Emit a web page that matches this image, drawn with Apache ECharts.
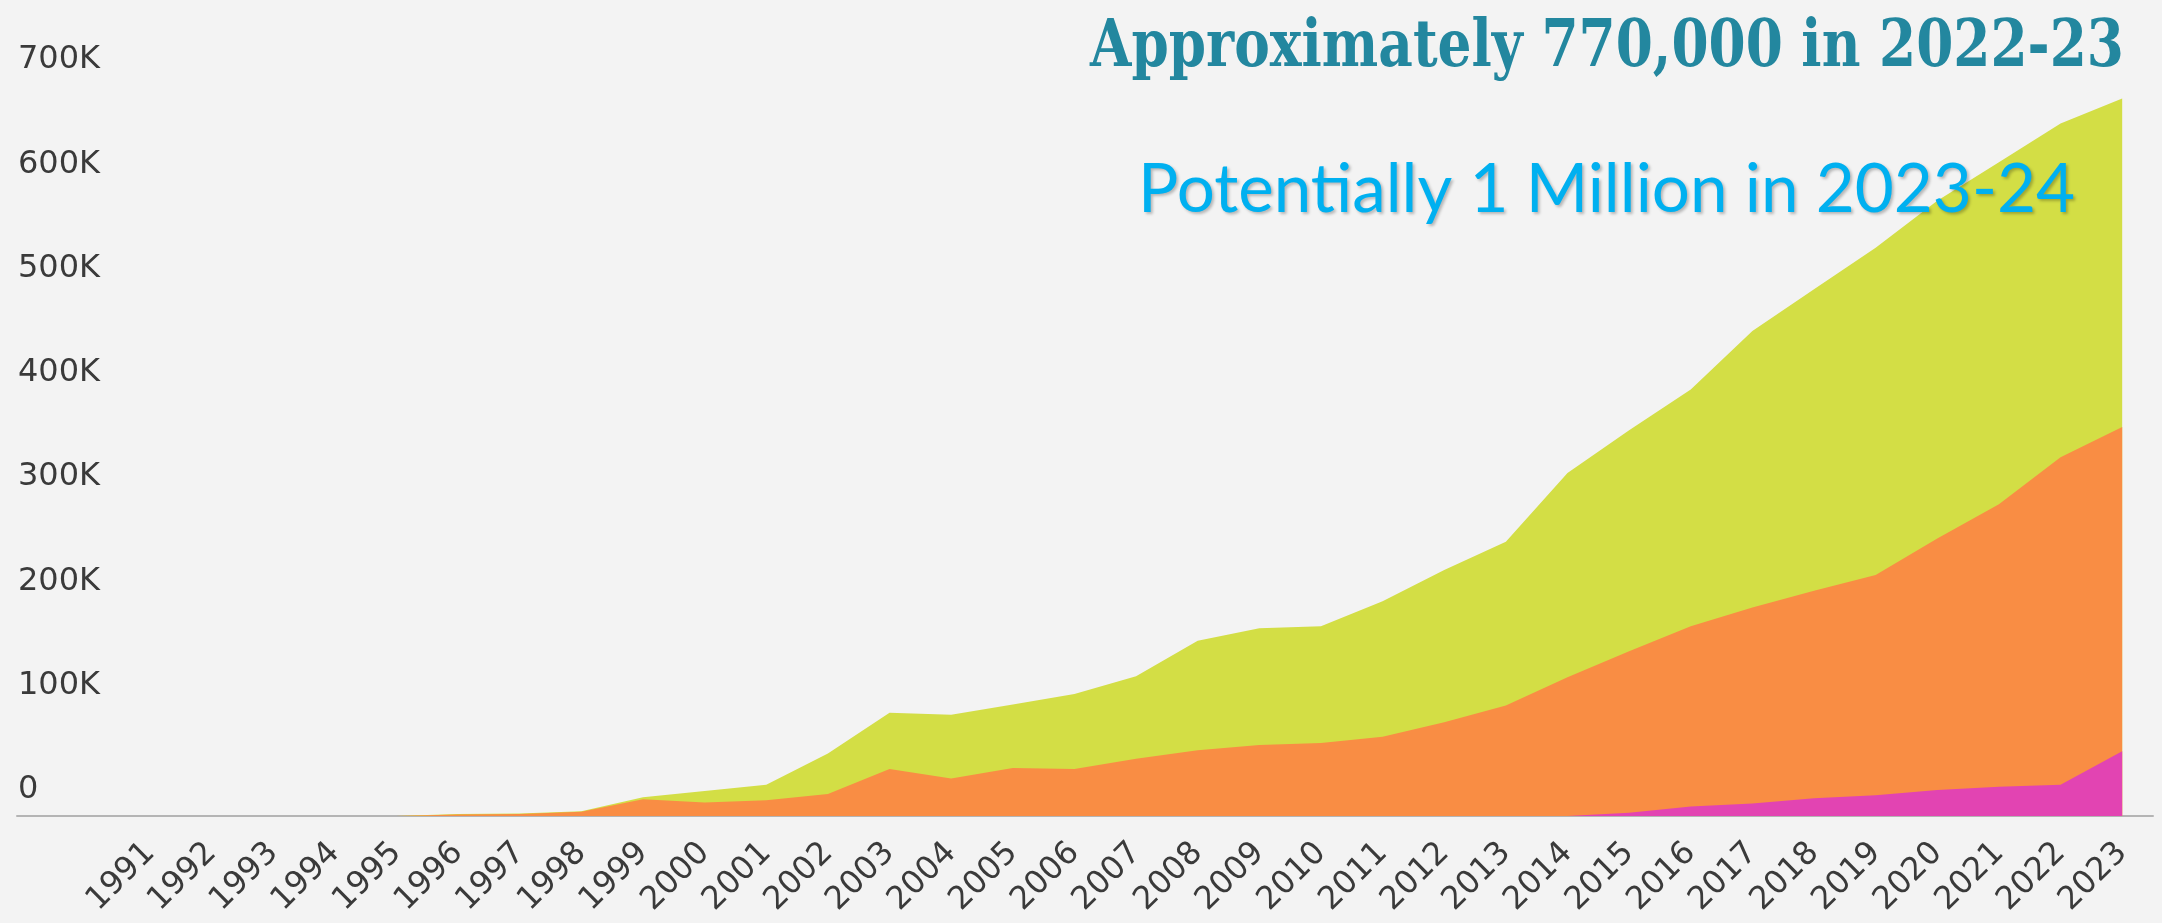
<!DOCTYPE html>
<html>
<head>
<meta charset="utf-8">
<script src="https://cdn.jsdelivr.net/npm/echarts@6/dist/echarts.min.js"></script>
<style>
  html, body { margin: 0; padding: 0; background: #f3f3f3; }
  #chart { width: 2162px; height: 923px; }
</style>
</head>
<body>
<div id="chart"></div>
<script>
// Academic years on the x axis
const years = [1991, 1992, 1993, 1994, 1995, 1996, 1997, 1998, 1999, 2000, 2001,
  2002, 2003, 2004, 2005, 2006, 2007, 2008, 2009, 2010, 2011, 2012, 2013,
  2014, 2015, 2016, 2017, 2018, 2019, 2020, 2021, 2022, 2023];

// Stacked components, bottom to top
const pinkValues = [0, 0, 0, 0, 0, 0, 0, 0, 0, 0, 0, 0, 0, 0, 0, 0, 0, 0, 0, 0,
  0, 0, 0, 0, 3000, 9000, 12000, 17000, 20000, 25000, 28000, 30000, 62000];

const orangeValues = [0, 0, 0, 0, 0, 1500, 2000, 4000, 16000, 13000, 15000,
  21000, 45000, 36000, 46000, 45000, 55000, 63000, 68000, 70000, 76000, 90000,
  106000, 133000, 155000, 173000, 188000, 199000, 211000, 241000, 271000,
  314000, 311000];

const limeValues = [0, 0, 0, 0, 0, 500, 500, 500, 2000, 11000, 15000, 39000,
  54000, 61000, 61000, 72000, 79000, 105000, 112000, 112000, 130000, 146000,
  157000, 196000, 212000, 227000, 265000, 289000, 314000, 324000, 328000,
  320000, 315000];

// Y axis ticks
const yTicks = [0, 100000, 200000, 300000, 400000, 500000, 600000, 700000];

const headline = 'Approximately 770,000 in 2022-23';
const subline = 'Potentially 1 Million in 2023-24';

// Running totals so each band sits on the ones below it
function cumulative(layers) {
  return years.map((y, i) => [y, layers.reduce((s, arr) => s + arr[i], 0)]);
}

function fitScale(text, font, width) {
  const ctx = document.createElement('canvas').getContext('2d');
  ctx.font = font;
  return width / ctx.measureText(text).width;
}

const headFont = 'bold 66px "DejaVu Serif"';
const subFont = '67px Lato';

const chart = echarts.init(document.getElementById('chart'));

function areaSeries(name, data, color, z) {
  return {
    name: name,
    type: 'line',
    data: data,
    symbol: 'none',
    z: z,
    lineStyle: { width: 0 },
    areaStyle: { color: color, opacity: 1 },
    itemStyle: { color: color },
    silent: true
  };
}

chart.setOption({
  backgroundColor: '#f3f3f3',
  animation: false,
  grid: { left: 17, right: 9, top: 86, bottom: 107, containLabel: false },
  xAxis: {
    type: 'value',
    min: 1988.843,
    max: 2023.5,
    axisLine: { show: true, lineStyle: { color: '#b4b4b4', width: 2 } },
    axisTick: { show: false },
    splitLine: { show: false },
    axisLabel: {
      customValues: years,
      rotate: 45,
      margin: 32,
      color: '#3a3a3a',
      fontFamily: 'DejaVu Sans',
      fontSize: 32,
      formatter: v => String(v)
    }
  },
  yAxis: {
    type: 'value',
    min: 0,
    max: 700000,
    interval: 100000,
    axisLine: { show: false },
    axisTick: { show: false },
    splitLine: { show: false },
    axisLabel: {
      customValues: yTicks,
      align: 'left',
      verticalAlign: 'bottom',
      margin: -1,
      padding: [0, 0, 10, 0],
      color: '#3a3a3a',
      fontFamily: 'DejaVu Sans',
      fontSize: 32,
      formatter: v => (v === 0 ? '0' : (v / 1000) + 'K')
    }
  },
  series: [
    areaSeries('lime', cumulative([pinkValues, orangeValues, limeValues]), '#d3de45', 2),
    areaSeries('orange', cumulative([pinkValues, orangeValues]), '#f98d44', 3),
    areaSeries('pink', cumulative([pinkValues]), '#e244b2', 4)
  ],
  graphic: [
    {
      type: 'text',
      x: 1090,
      y: 49,
      z: 100,
      scaleX: fitScale(headline, headFont, 1034),
      style: {
        text: headline,
        font: headFont,
        fill: '#23879f',
        align: 'left',
        verticalAlign: 'middle'
      }
    },
    {
      type: 'text',
      x: 1138,
      y: 190,
      z: 100,
      scaleX: fitScale(subline, subFont, 937),
      style: {
        text: subline,
        font: subFont,
        fill: '#00b0f0',
        align: 'left',
        verticalAlign: 'middle',
        textShadowColor: 'rgba(0,0,0,0.25)',
        textShadowBlur: 3,
        textShadowOffsetX: 2,
        textShadowOffsetY: 2
      }
    }
  ]
});
</script>
</body>
</html>
